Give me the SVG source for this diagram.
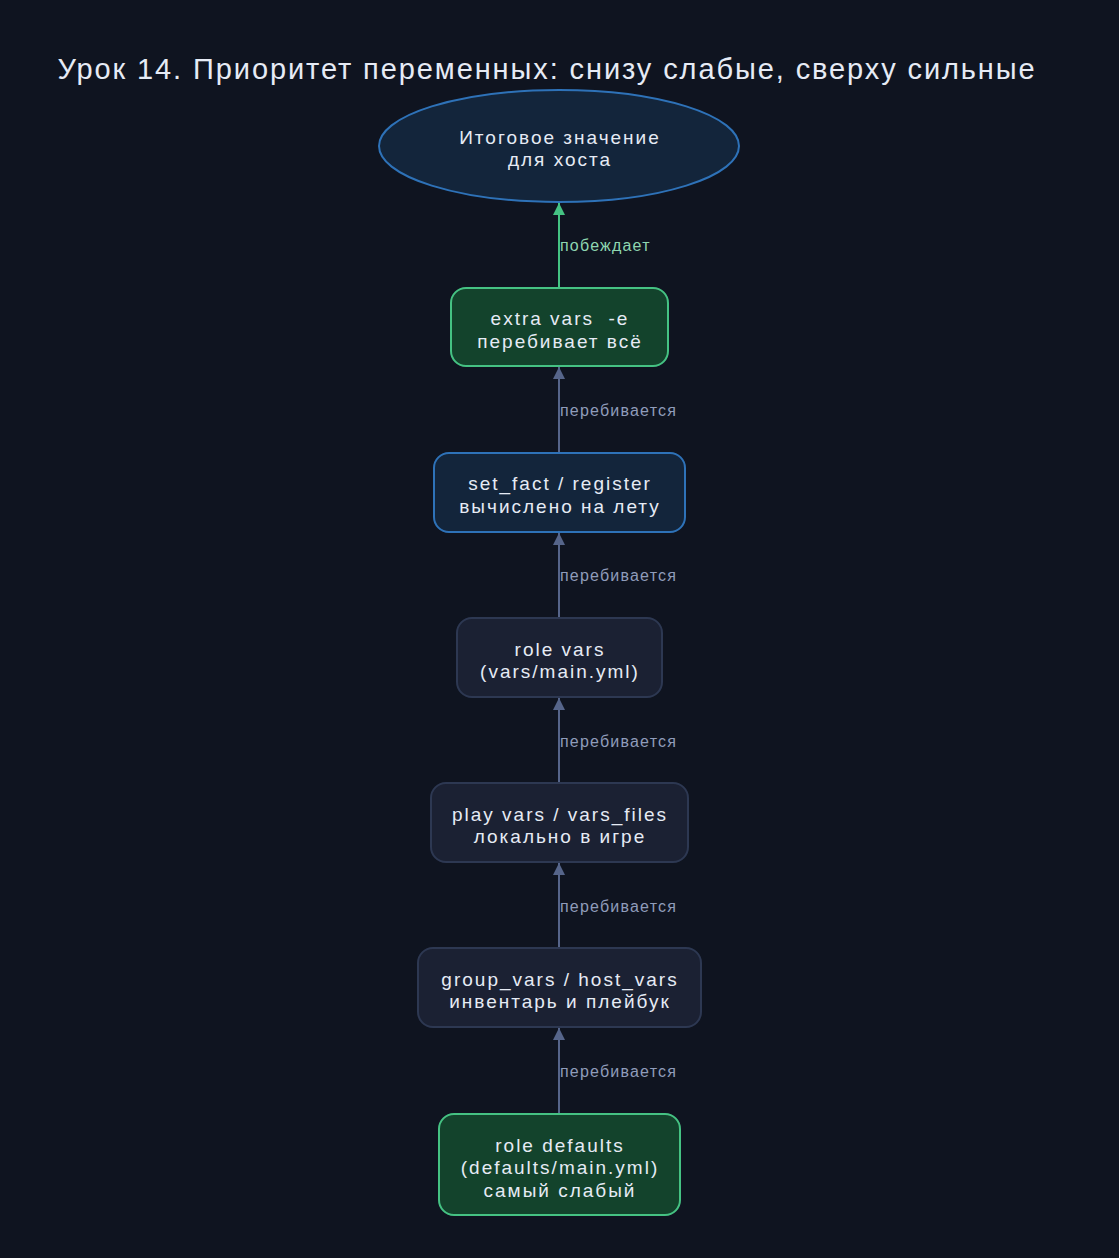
<svg xmlns="http://www.w3.org/2000/svg" width="1119" height="1258" viewBox="0 0 1119 1258">
<style>
.t{font-family:"Liberation Sans",Arial,sans-serif;fill:#e6ebf5;text-anchor:middle;white-space:pre}
.n{font-size:19px;letter-spacing:2px}
.title{font-size:29px;letter-spacing:1.9px}
.lbl{font-family:"Liberation Sans",Arial,sans-serif;font-size:16px;letter-spacing:1.2px;fill:#8f9cba}
.lg{fill:#8ed6b0}
.e{stroke:#56658a;stroke-width:2;fill:none}
.eg{stroke:#44c283;stroke-width:2;fill:none}
.gray{fill:#1b2133;stroke:#2d3852;stroke-width:2}
.green{fill:#13432c;stroke:#45c283;stroke-width:2}
.blue{fill:#13253b;stroke:#2e72b8;stroke-width:2}
</style>
<defs>
<marker id="ag" markerWidth="12" markerHeight="20" refX="10" refY="5" orient="auto" markerUnits="userSpaceOnUse" viewBox="0 0 10 10">
<path d="M0,0 L10,5 L0,10 z" fill="#44c283"/>
</marker>
<marker id="ab" markerWidth="12" markerHeight="20" refX="10" refY="5" orient="auto" markerUnits="userSpaceOnUse" viewBox="0 0 10 10">
<path d="M0,0 L10,5 L0,10 z" fill="#56658a"/>
</marker>
</defs>
<rect x="0" y="0" width="1119" height="1258" fill="#0f1420"/>
<text class="t title" x="547" y="79">Урок 14. Приоритет переменных: снизу слабые, сверху сильные</text>
<g id="edges">
<line class="eg" x1="559" y1="288" x2="559" y2="203" marker-end="url(#ag)"/>
<text class="lbl lg" x="560" y="251">побеждает</text>
<line class="e" x1="559" y1="453" x2="559" y2="367" marker-end="url(#ab)"/>
<text class="lbl" x="560" y="416">перебивается</text>
<line class="e" x1="559" y1="618" x2="559" y2="533" marker-end="url(#ab)"/>
<text class="lbl" x="560" y="581">перебивается</text>
<line class="e" x1="559" y1="783" x2="559" y2="698" marker-end="url(#ab)"/>
<text class="lbl" x="560" y="747">перебивается</text>
<line class="e" x1="559" y1="948" x2="559" y2="863" marker-end="url(#ab)"/>
<text class="lbl" x="560" y="912">перебивается</text>
<line class="e" x1="559" y1="1114" x2="559" y2="1028" marker-end="url(#ab)"/>
<text class="lbl" x="560" y="1077">перебивается</text>
</g>
<g id="final">
<ellipse class="blue" cx="559" cy="146" rx="180" ry="56"/>
<text class="t n" x="560" y="144">Итоговое значение</text>
<text class="t n" x="560" y="166">для хоста</text>
</g>
<g id="extra">
<rect class="green" x="451" y="288" width="217" height="78" rx="15"/>
<text class="t n" x="560" y="325">extra vars  -e</text>
<text class="t n" x="560" y="348">перебивает всё</text>
</g>
<g id="setfact">
<rect class="blue" x="434" y="453" width="251" height="79" rx="15"/>
<text class="t n" x="560" y="490">set_fact / register</text>
<text class="t n" x="560" y="513">вычислено на лету</text>
</g>
<g id="rolevars">
<rect class="gray" x="457" y="618" width="205" height="79" rx="15"/>
<text class="t n" x="560" y="656">role vars</text>
<text class="t n" x="560" y="678">(vars/main.yml)</text>
</g>
<g id="playvars">
<rect class="gray" x="431" y="783" width="257" height="79" rx="15"/>
<text class="t n" x="560" y="821">play vars / vars_files</text>
<text class="t n" x="560" y="843">локально в игре</text>
</g>
<g id="groupvars">
<rect class="gray" x="418" y="948" width="283" height="79" rx="15"/>
<text class="t n" x="560" y="986">group_vars / host_vars</text>
<text class="t n" x="560" y="1008">инвентарь и плейбук</text>
</g>
<g id="defaults">
<rect class="green" x="439" y="1114" width="241" height="101" rx="15"/>
<text class="t n" x="560" y="1152">role defaults</text>
<text class="t n" x="560" y="1174">(defaults/main.yml)</text>
<text class="t n" x="560" y="1197">самый слабый</text>
</g>
</svg>
